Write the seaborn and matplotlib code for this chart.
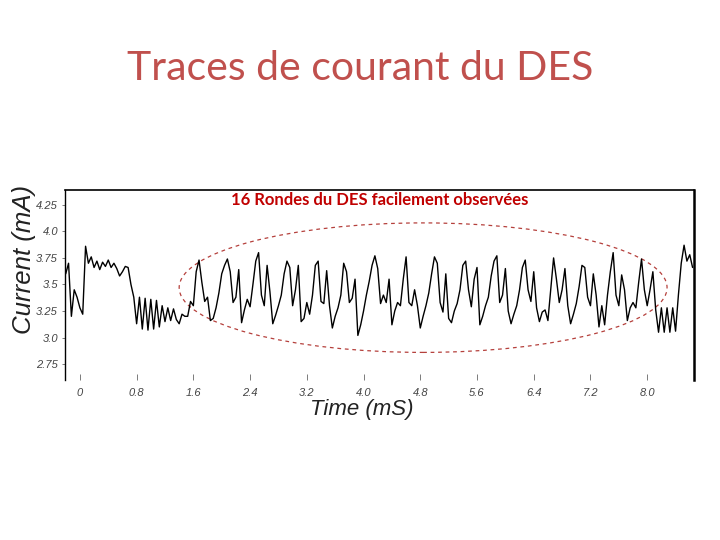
import numpy as np
import matplotlib
matplotlib.use("Agg")
import matplotlib.pyplot as plt
from matplotlib.patches import Ellipse
import seaborn as sns

"""
oscilloscope trace of the DES current, 16 rounds circled
"""

# sampling of the trace (ms)
T_START = -0.20
T_STEP = 0.04

# current (mA), one row = 0.8 ms of samples
CURRENT_ROWS = [
    [3.60, 3.70, 3.20, 3.45, 3.38, 3.28, 3.22, 3.86, 3.70, 3.76,
     3.66, 3.72, 3.64, 3.71, 3.67, 3.73, 3.66, 3.70, 3.65, 3.58],
    [3.62, 3.67, 3.66, 3.50, 3.38, 3.13, 3.38, 3.08, 3.37, 3.07,
     3.36, 3.08, 3.35, 3.10, 3.30, 3.15, 3.28, 3.16, 3.27, 3.17],
    [3.13, 3.22, 3.20, 3.20, 3.34, 3.30, 3.62, 3.73, 3.52, 3.34,
     3.38, 3.16, 3.18, 3.28, 3.42, 3.60, 3.68, 3.74, 3.62, 3.33],
    [3.38, 3.64, 3.14, 3.26, 3.36, 3.29, 3.50, 3.72, 3.80, 3.40,
     3.30, 3.68, 3.43, 3.13, 3.21, 3.30, 3.40, 3.60, 3.72, 3.66],
    [3.30, 3.45, 3.68, 3.15, 3.18, 3.33, 3.22, 3.40, 3.68, 3.72,
     3.34, 3.32, 3.63, 3.30, 3.09, 3.20, 3.28, 3.40, 3.70, 3.62],
    [3.33, 3.37, 3.55, 3.02, 3.12, 3.25, 3.40, 3.53, 3.68, 3.77,
     3.65, 3.32, 3.40, 3.33, 3.55, 3.12, 3.25, 3.33, 3.30, 3.55],
    [3.76, 3.33, 3.30, 3.45, 3.30, 3.09, 3.20, 3.30, 3.42, 3.60,
     3.76, 3.70, 3.33, 3.24, 3.60, 3.18, 3.14, 3.25, 3.32, 3.45],
    [3.68, 3.72, 3.45, 3.29, 3.55, 3.66, 3.12, 3.20, 3.30, 3.38,
     3.58, 3.72, 3.77, 3.33, 3.40, 3.65, 3.25, 3.13, 3.22, 3.30],
    [3.45, 3.66, 3.73, 3.45, 3.34, 3.62, 3.28, 3.15, 3.24, 3.26,
     3.16, 3.45, 3.75, 3.55, 3.33, 3.45, 3.65, 3.30, 3.13, 3.22],
    [3.32, 3.48, 3.68, 3.66, 3.38, 3.30, 3.60, 3.40, 3.10, 3.30,
     3.12, 3.40, 3.62, 3.80, 3.40, 3.30, 3.59, 3.45, 3.16, 3.28],
    [3.33, 3.28, 3.52, 3.74, 3.45, 3.30, 3.45, 3.62, 3.26, 3.05,
     3.28, 3.05, 3.28, 3.05, 3.28, 3.06, 3.40, 3.70, 3.87, 3.72],
    [3.78, 3.66],
]

X_TICKS = [0, 0.8, 1.6, 2.4, 3.2, 4.0, 4.8, 5.6, 6.4, 7.2, 8.0]
X_LABELS = ["0", "0.8", "1.6", "2.4", "3.2", "4.0", "4.8", "5.6", "6.4", "7.2", "8.0"]
Y_TICKS = [2.75, 3.0, 3.25, 3.5, 3.75, 4.0, 4.25]
Y_LABELS = ["2.75", "3.0", "3.25", "3.5", "3.75", "4.0", "4.25"]

# circled region: centre, width, height (ms, mA)
RING = (4.84, 3.47), 6.88, 1.22

TITLE = "Traces de courant du DES"
NOTE = "16 Rondes du DES facilement observées"


def main():
    current = np.concatenate([np.array(r) for r in CURRENT_ROWS])
    time = T_START + T_STEP * np.arange(len(current))

    sns.set_style("white")
    plt.rcParams["font.family"] = ["Liberation Sans", "DejaVu Sans"]

    fig = plt.figure(figsize=(7.2, 5.4), dpi=100)
    ax = fig.add_axes([65 / 720, 1 - 380 / 540, 629 / 720, 190 / 540])

    sns.lineplot(x=time, y=current, ax=ax, color="black", linewidth=1.0,
                 estimator=None, sort=False)

    (cx, cy), w, h = RING
    ax.add_patch(Ellipse((cx, cy), w, h, fill=False, edgecolor="#b5403c",
                         linestyle=(0, (3, 3)), linewidth=0.9))

    ax.set_xlim(-0.21, 8.66)
    ax.set_ylim(2.60, 4.39)
    ax.set_xticks(X_TICKS, X_LABELS)
    ax.set_yticks(Y_TICKS, Y_LABELS)
    ax.tick_params(axis="x", direction="in", length=4, width=0.6, pad=6,
                   labelsize=8, labelcolor="#444444", color="#666666")
    ax.tick_params(axis="y", direction="out", length=2, width=0.6, pad=3,
                   labelsize=8, labelcolor="#444444", color="#666666", left=True)
    ax.tick_params(axis="x", bottom=True)
    for lab in ax.get_xticklabels() + ax.get_yticklabels():
        lab.set_fontstyle("italic")

    ax.spines["bottom"].set_visible(False)
    ax.spines["top"].set_linewidth(1.2)
    ax.spines["left"].set_linewidth(1.0)
    ax.spines["right"].set_linewidth(1.8)
    for s in ("top", "left", "right"):
        ax.spines[s].set_color("black")

    ax.set_xlabel("")
    ax.set_ylabel("")
    fig.text(362 / 720, 1 - 409 / 540, "Time (mS)", ha="center", va="center",
             fontsize=16, fontstyle="italic", color="#222222")
    fig.text(24 / 720, 1 - 259 / 540, "Current (mA)", ha="center", va="center",
             rotation=90, fontsize=18.5, fontstyle="italic", color="#222222")

    fig.text(360 / 720, 1 - 68 / 540, TITLE, ha="center", va="center",
             fontsize=29.5, color="#c0504d", family=["Lato", "DejaVu Sans"])
    fig.text(380 / 720, 1 - 200 / 540, NOTE, ha="center", va="center",
             fontsize=12, color="#c00000", fontweight="bold",
             family=["Lato", "DejaVu Sans"])

    fig.savefig("out.png", dpi=100, facecolor="white")


if __name__ == '__main__':
    main()
